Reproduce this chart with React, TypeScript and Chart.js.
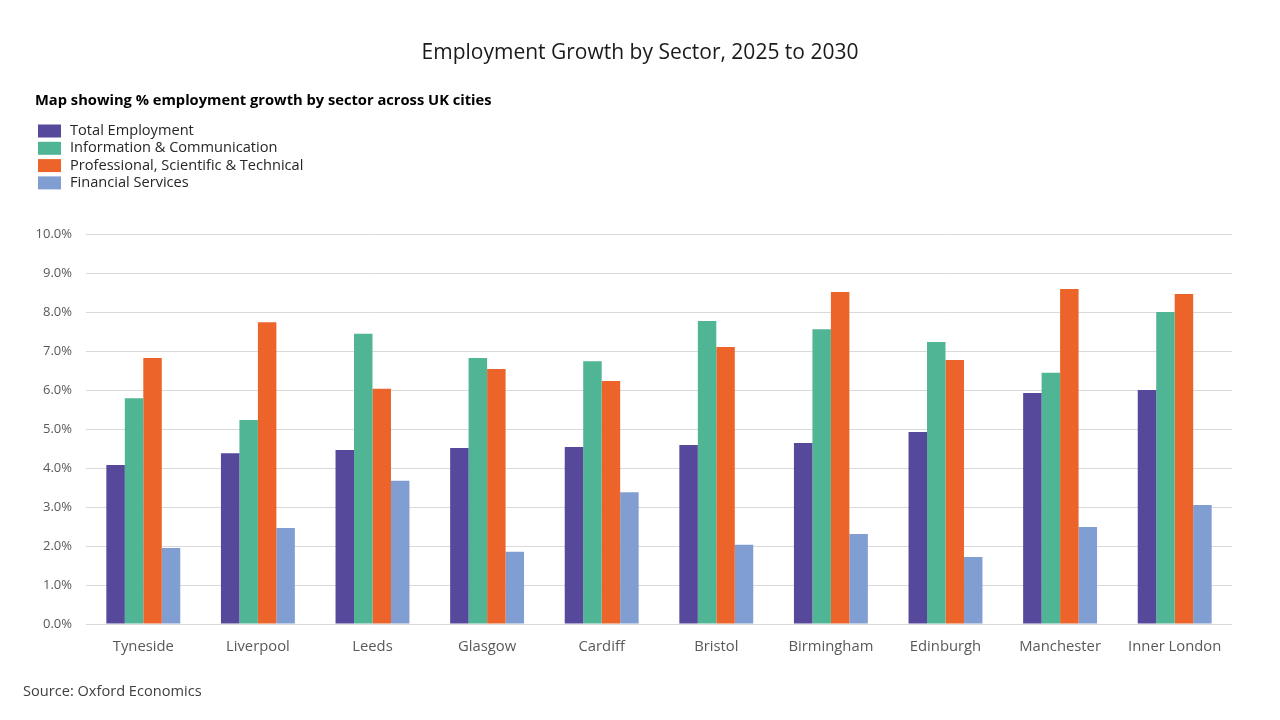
import React, { useEffect, useRef } from "react";
import { Chart, registerables } from "chart.js";

Chart.register(...registerables);

const cities = [
  "Tyneside",
  "Liverpool",
  "Leeds",
  "Glasgow",
  "Cardiff",
  "Bristol",
  "Birmingham",
  "Edinburgh",
  "Manchester",
  "Inner London",
];

const seriesNames = [
  "Total Employment",
  "Information & Communication",
  "Professional, Scientific & Technical",
  "Financial Services",
];

const totalEmployment = [4.08, 4.38, 4.46, 4.51, 4.54, 4.59, 4.64, 4.92, 5.92, 6.0];
const infoComms = [5.79, 5.23, 7.44, 6.82, 6.74, 7.77, 7.56, 7.23, 6.44, 8.0];
const profSciTech = [6.82, 7.74, 6.03, 6.54, 6.23, 7.1, 8.51, 6.77, 8.59, 8.46];
const financialServices = [1.95, 2.46, 3.67, 1.85, 3.38, 2.03, 2.31, 1.72, 2.49, 3.05];

const seriesColors = ["#56499C", "#4FB595", "#EC6429", "#809ED2"];

const titleText = "Employment Growth by Sector, 2025 to 2030";
const subtitleText = "Map showing % employment growth by sector across UK cities";
const sourceText = "Source: Oxford Economics";

const FONT = "'Open Sans', 'Noto Sans', sans-serif";

// Draws the heading, the subheading, the stacked legend and the source note.
const textBlocks = {
  id: "textBlocks",
  afterDraw(chart: Chart) {
    const ctx = chart.ctx;
    ctx.save();
    ctx.textBaseline = "middle";

    ctx.fillStyle = "#1a1a1a";
    ctx.font = `21px ${FONT}`;
    ctx.textAlign = "center";
    ctx.fillText(titleText, 640, 53);

    ctx.textAlign = "left";
    ctx.fillStyle = "#000000";
    ctx.font = `bold 14.7px ${FONT}`;
    ctx.fillText(subtitleText, 35, 101);

    ctx.font = `14.6px ${FONT}`;
    chart.data.datasets.forEach((ds, i) => {
      const y = 131 + i * 17.3;
      ctx.fillStyle = ds.backgroundColor as string;
      ctx.fillRect(38, y - 6.5, 23, 13);
      ctx.fillStyle = "#262626";
      ctx.fillText(ds.label as string, 70, y);
    });

    ctx.fillStyle = "#404040";
    ctx.fillText(sourceText, 23, 691.5);
    ctx.restore();
  },
};

export default function App() {
  const canvasRef = useRef<HTMLCanvasElement | null>(null);

  useEffect(() => {
    if (!canvasRef.current) return;
    const values = [totalEmployment, infoComms, profSciTech, financialServices];
    const chart = new Chart(canvasRef.current, {
      type: "bar",
      data: {
        labels: cities,
        datasets: seriesNames.map((name, i) => ({
          label: name,
          data: values[i],
          backgroundColor: seriesColors[i],
          borderWidth: 0,
          categoryPercentage: 0.645,
          barPercentage: 1.0,
        })),
      },
      options: {
        animation: false,
        responsive: false,
        maintainAspectRatio: false,
        layout: { padding: { top: 234, right: 48, left: 0, bottom: 0 } },
        plugins: {
          legend: { display: false },
          title: { display: false },
          tooltip: { enabled: false },
        },
        scales: {
          x: {
            grid: { display: false, drawTicks: false },
            border: { display: false },
            ticks: {
              color: "#595959",
              font: { family: FONT, size: 14.8 },
              padding: 14,
              maxRotation: 0,
              autoSkip: false,
            },
            afterFit: (s: any) => {
              s.height = 96;
            },
          },
          y: {
            min: 0,
            max: 10,
            grid: { color: "#d9d9d9", lineWidth: 1, drawTicks: false },
            border: { display: false },
            ticks: {
              stepSize: 1,
              color: "#595959",
              font: { family: FONT, size: 13 },
              padding: 14,
              callback: (v: any) => `${Number(v).toFixed(1)}%`,
            },
            afterFit: (s: any) => {
              s.width = 86;
            },
          },
        },
      },
      plugins: [textBlocks],
    });
    return () => chart.destroy();
  }, []);

  return (
    <div
      style={{
        position: "fixed",
        left: 0,
        top: 0,
        width: 1280,
        height: 720,
        background: "#ffffff",
      }}
    >
      <canvas ref={canvasRef} width={1280} height={720} />
    </div>
  );
}
